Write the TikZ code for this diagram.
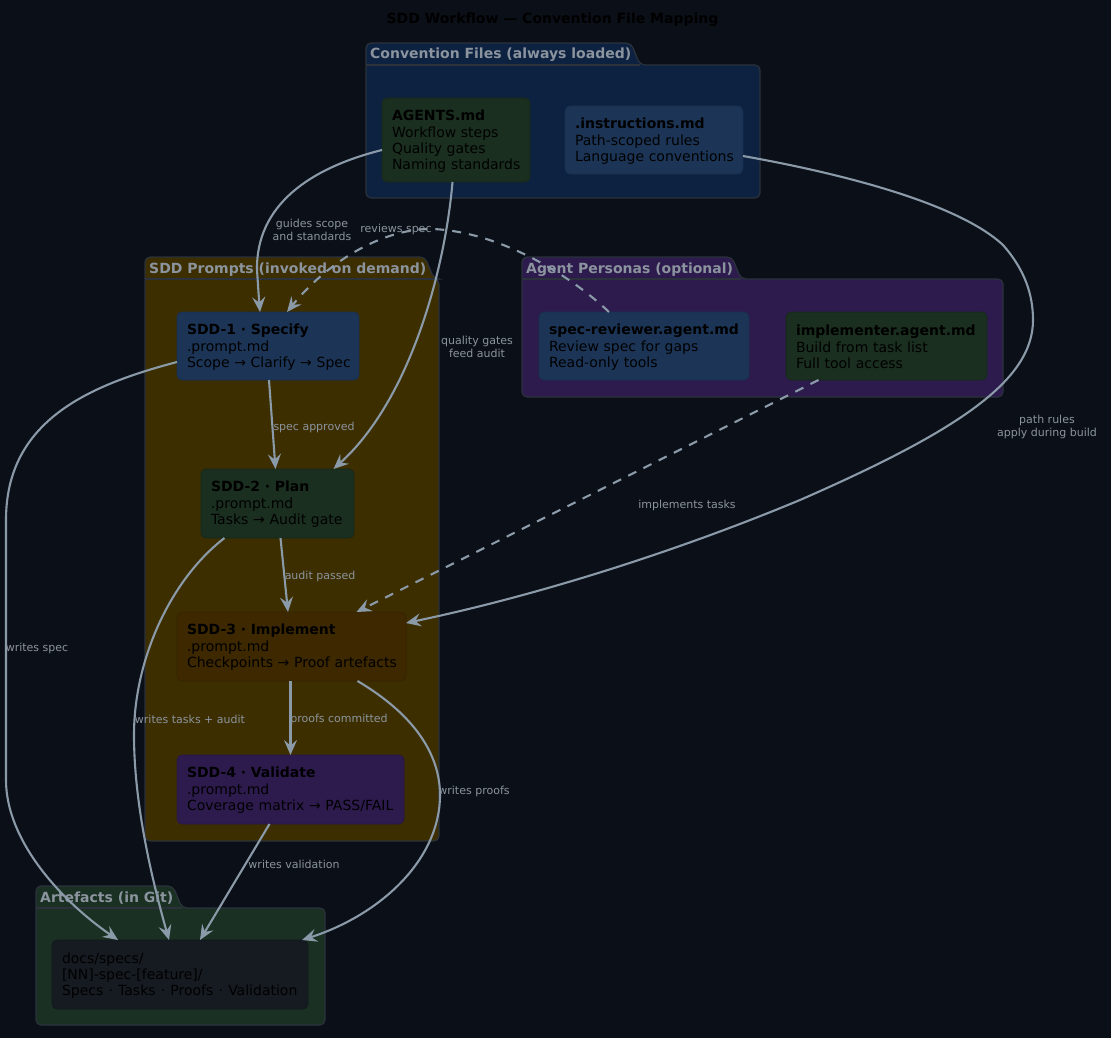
\documentclass[tikz,border=0pt]{standalone}
\usepackage{fontspec}
\setmainfont{DejaVu Sans}
\usetikzlibrary{arrows.meta}
\definecolor{bgc}{HTML}{0B0F17}
\definecolor{pkgline}{HTML}{2B323B}
\definecolor{pkgtext}{HTML}{8B949E}
\definecolor{conv}{HTML}{0D2240}
\definecolor{prom}{HTML}{3D2E00}
\definecolor{pers}{HTML}{2D1B4E}
\definecolor{arte}{HTML}{1A3022}
\definecolor{cblue}{HTML}{1C3557}
\definecolor{cgreen}{HTML}{1A2F20}
\definecolor{cbrown}{HTML}{3D2800}
\definecolor{cpurple}{HTML}{2D1B4E}
\definecolor{cgrey}{HTML}{161B22}
\definecolor{edgec}{HTML}{8B9AA8}
\definecolor{labc}{HTML}{8B949E}
\tikzset{
  folder/.style={draw=pkgline,line width=1.2pt,rounded corners=5pt},
  pkgtitle/.style={anchor=base west,inner sep=0pt,text=pkgtext,font=\fontsize{14}{16}\selectfont\bfseries},
  card/.style n args={3}{draw=#1!88!black,fill=#1,rounded corners=5pt,line width=.8pt,anchor=north west,outer sep=0pt,inner xsep=2pt,inner ysep=0pt,text width=#2-4pt,minimum height=#3,align=left,text=black,font=\fontsize{14}{16}\selectfont,execute at begin node={\leftskip=8pt\relax\hyphenpenalty=10000\relax\leavevmode\rule{0pt}{12.8pt}}},
  flow/.style={draw=edgec,line width=2.1pt,-{Stealth[length=15pt,width=13pt,inset=5.5pt]}},
  flowdash/.style={flow,dash pattern=on 9pt off 8pt},
  edgelab/.style={inner sep=0pt,text=labc,align=center,yshift=-1pt,font=\fontsize{11}{13}\selectfont},
}
\newcommand{\folderpath}[7]{% colour, left, tabtop, bodytop, bottom, right, tabright
  \path[folder,fill=#1] (#2,#4) -- (#2,#3) -- (#7-9,#3) -- (#7,#4) -- (#6,#4) -- (#6,#5) -- (#2,#5) -- cycle;
  \draw[pkgline,line width=1.2pt] (#2,#4) -- (#7,#4);
}
\begin{document}
\begin{tikzpicture}[x=1pt,y=-1pt]
\useasboundingbox (0,0) rectangle (1111,1038);
\fill[bgc] (0,0) rectangle (1111,1038);
\node[inner sep=0pt,text=black,font=\fontsize{14}{16}\selectfont\bfseries] (title) at (552.5,20) {SDD Workflow — Convention File Mapping};

\folderpath{conv}{366}{43}{65}{198}{760}{640}
\folderpath{prom}{145}{257}{279}{841}{439}{434}
\folderpath{pers}{522}{257}{279}{397}{1003}{741}
\folderpath{arte}{36}{886}{908}{1025}{325}{182}
\node[pkgtitle] (tconv) at (370,59) {Convention Files (always loaded)};
\node[pkgtitle] (tprom) at (149,273) {SDD Prompts (invoked on demand)};
\node[pkgtitle] (tpers) at (526,273) {Agent Personas (optional)};
\node[pkgtitle] (tarte) at (40,902) {Artefacts (in Git)};

\node[card={cgreen}{148pt}{84pt}] (agents) at (382,98) {\textbf{AGENTS.md}\\[1pt]Workflow steps\\Quality gates\\Naming standards};
\node[card={cblue}{178pt}{68pt}] (instr) at (565,106) {\textbf{.instructions.md}\\[1pt]Path-scoped rules\\Language conventions};
\node[card={cblue}{182pt}{68pt}] (sdda) at (177,312) {\textbf{SDD-1 · Specify}\\[1pt].prompt.md\\Scope → Clarify → Spec};
\node[card={cgreen}{153pt}{69pt}] (sddb) at (201,469) {\textbf{SDD-2 · Plan}\\[1pt].prompt.md\\Tasks → Audit gate};
\node[card={cbrown}{229pt}{69pt}] (sddc) at (177,612) {\textbf{SDD-3 · Implement}\\[1pt].prompt.md\\Checkpoints → Proof artefacts};
\node[card={cpurple}{227pt}{69pt}] (sddd) at (177,755) {\textbf{SDD-4 · Validate}\\[1pt].prompt.md\\Coverage matrix → PASS/FAIL};
\node[card={cblue}{210pt}{68pt}] (rev) at (539,312) {\textbf{spec-reviewer.agent.md}\\[1pt]Review spec for gaps\\Read-only tools};
\node[card={cgreen}{201pt}{68pt}] (impl) at (786,312) {\textbf{implementer.agent.md}\\[1pt]Build from task list\\Full tool access};
\node[card={cgrey}{256pt}{69pt}] (docs) at (52,940) {docs/specs/\\{}[NN]-spec-[feature]/\\Specs\hspace{.5pt} · \hspace{.5pt}Tasks\hspace{.5pt} · \hspace{.5pt}Proofs\hspace{.5pt} · \hspace{.5pt}Validation};

% agents -> sdd1
\draw[flow] ([yshift=-10pt]agents.west) .. controls (310,168) and (256,205) .. (257,270) .. controls (258,285) and (259,300) .. ([xshift=-8pt]sdda.north);
% agents -> sdd2
\draw[flow] ([xshift=-3.5pt]agents.south) .. controls (445,270) and (410,400) .. ([xshift=56pt]sddb.north);
% instructions -> sdd3
\draw[flow] ([yshift=-16pt]instr.east) .. controls (850,175) and (960,205) .. (1003,245) .. controls (1025,270) and (1033,295) .. (1033,320) .. controls (1033,380) and (960,430) .. (800,500) .. controls (680,550) and (540,595) .. ([yshift=23.5pt]sddc.east);
% reviewer -> sdd1
\draw[flowdash] ([xshift=-35pt]rev.north) .. controls (570,275) and (500,232) .. (433,229) .. controls (380,228) and (325,265) .. ([xshift=19pt]sdda.north);
% implementer -> sdd3
\draw[flowdash] ([xshift=-68pt]impl.south) .. controls (660,460) and (500,540) .. ([xshift=65pt]sddc.north);
% chain
\draw[flow] ([xshift=1pt]sdda.south) -- ([xshift=-2pt]sddb.north);
\draw[flow] ([xshift=3pt]sddb.south) -- ([xshift=-3.5pt]sddc.north);
\draw[flow] ([xshift=-1pt]sddc.south) -- ([xshift=0pt]sddd.north);
% writes
\draw[flow] ([yshift=-16pt]sdda.west) .. controls (90,385) and (6,420) .. (6,520) .. controls (6,610) and (6,700) .. (6,780) .. controls (6,840) and (60,900) .. ([xshift=-62pt]docs.north);
\draw[flow] ([xshift=-53pt]sddb.south) .. controls (170,580) and (134,660) .. (134,735) .. controls (134,810) and (155,890) .. ([xshift=-11pt]docs.north);
\draw[flow] ([xshift=-21pt]sddd.south) -- ([xshift=20pt]docs.north);
\draw[flow] ([xshift=66pt]sddc.south) .. controls (415,715) and (440,755) .. (440,795) .. controls (440,860) and (380,915) .. ([xshift=122pt]docs.north);

\node[edgelab] (l1) at (312,229) {guides scope\\and standards};
\node[edgelab] (l2) at (396,228) {reviews spec};
\node[edgelab] (l3) at (477,346) {quality gates\\feed audit};
\node[edgelab] (l4) at (314,426) {spec approved};
\node[edgelab] (l5) at (320,575) {audit passed};
\node[edgelab] (l6) at (37,647) {writes spec};
\node[edgelab] (l7) at (190,718) {writes tasks + audit};
\node[edgelab] (l8) at (339,718) {proofs committed};
\node[edgelab] (l9) at (474,790) {writes proofs};
\node[edgelab] (l10) at (294,863) {writes validation};
\node[edgelab] (l11) at (687,504) {implements tasks};
\node[edgelab] (l12) at (1047,426) {path rules\\apply during build};
\end{tikzpicture}
\end{document}
